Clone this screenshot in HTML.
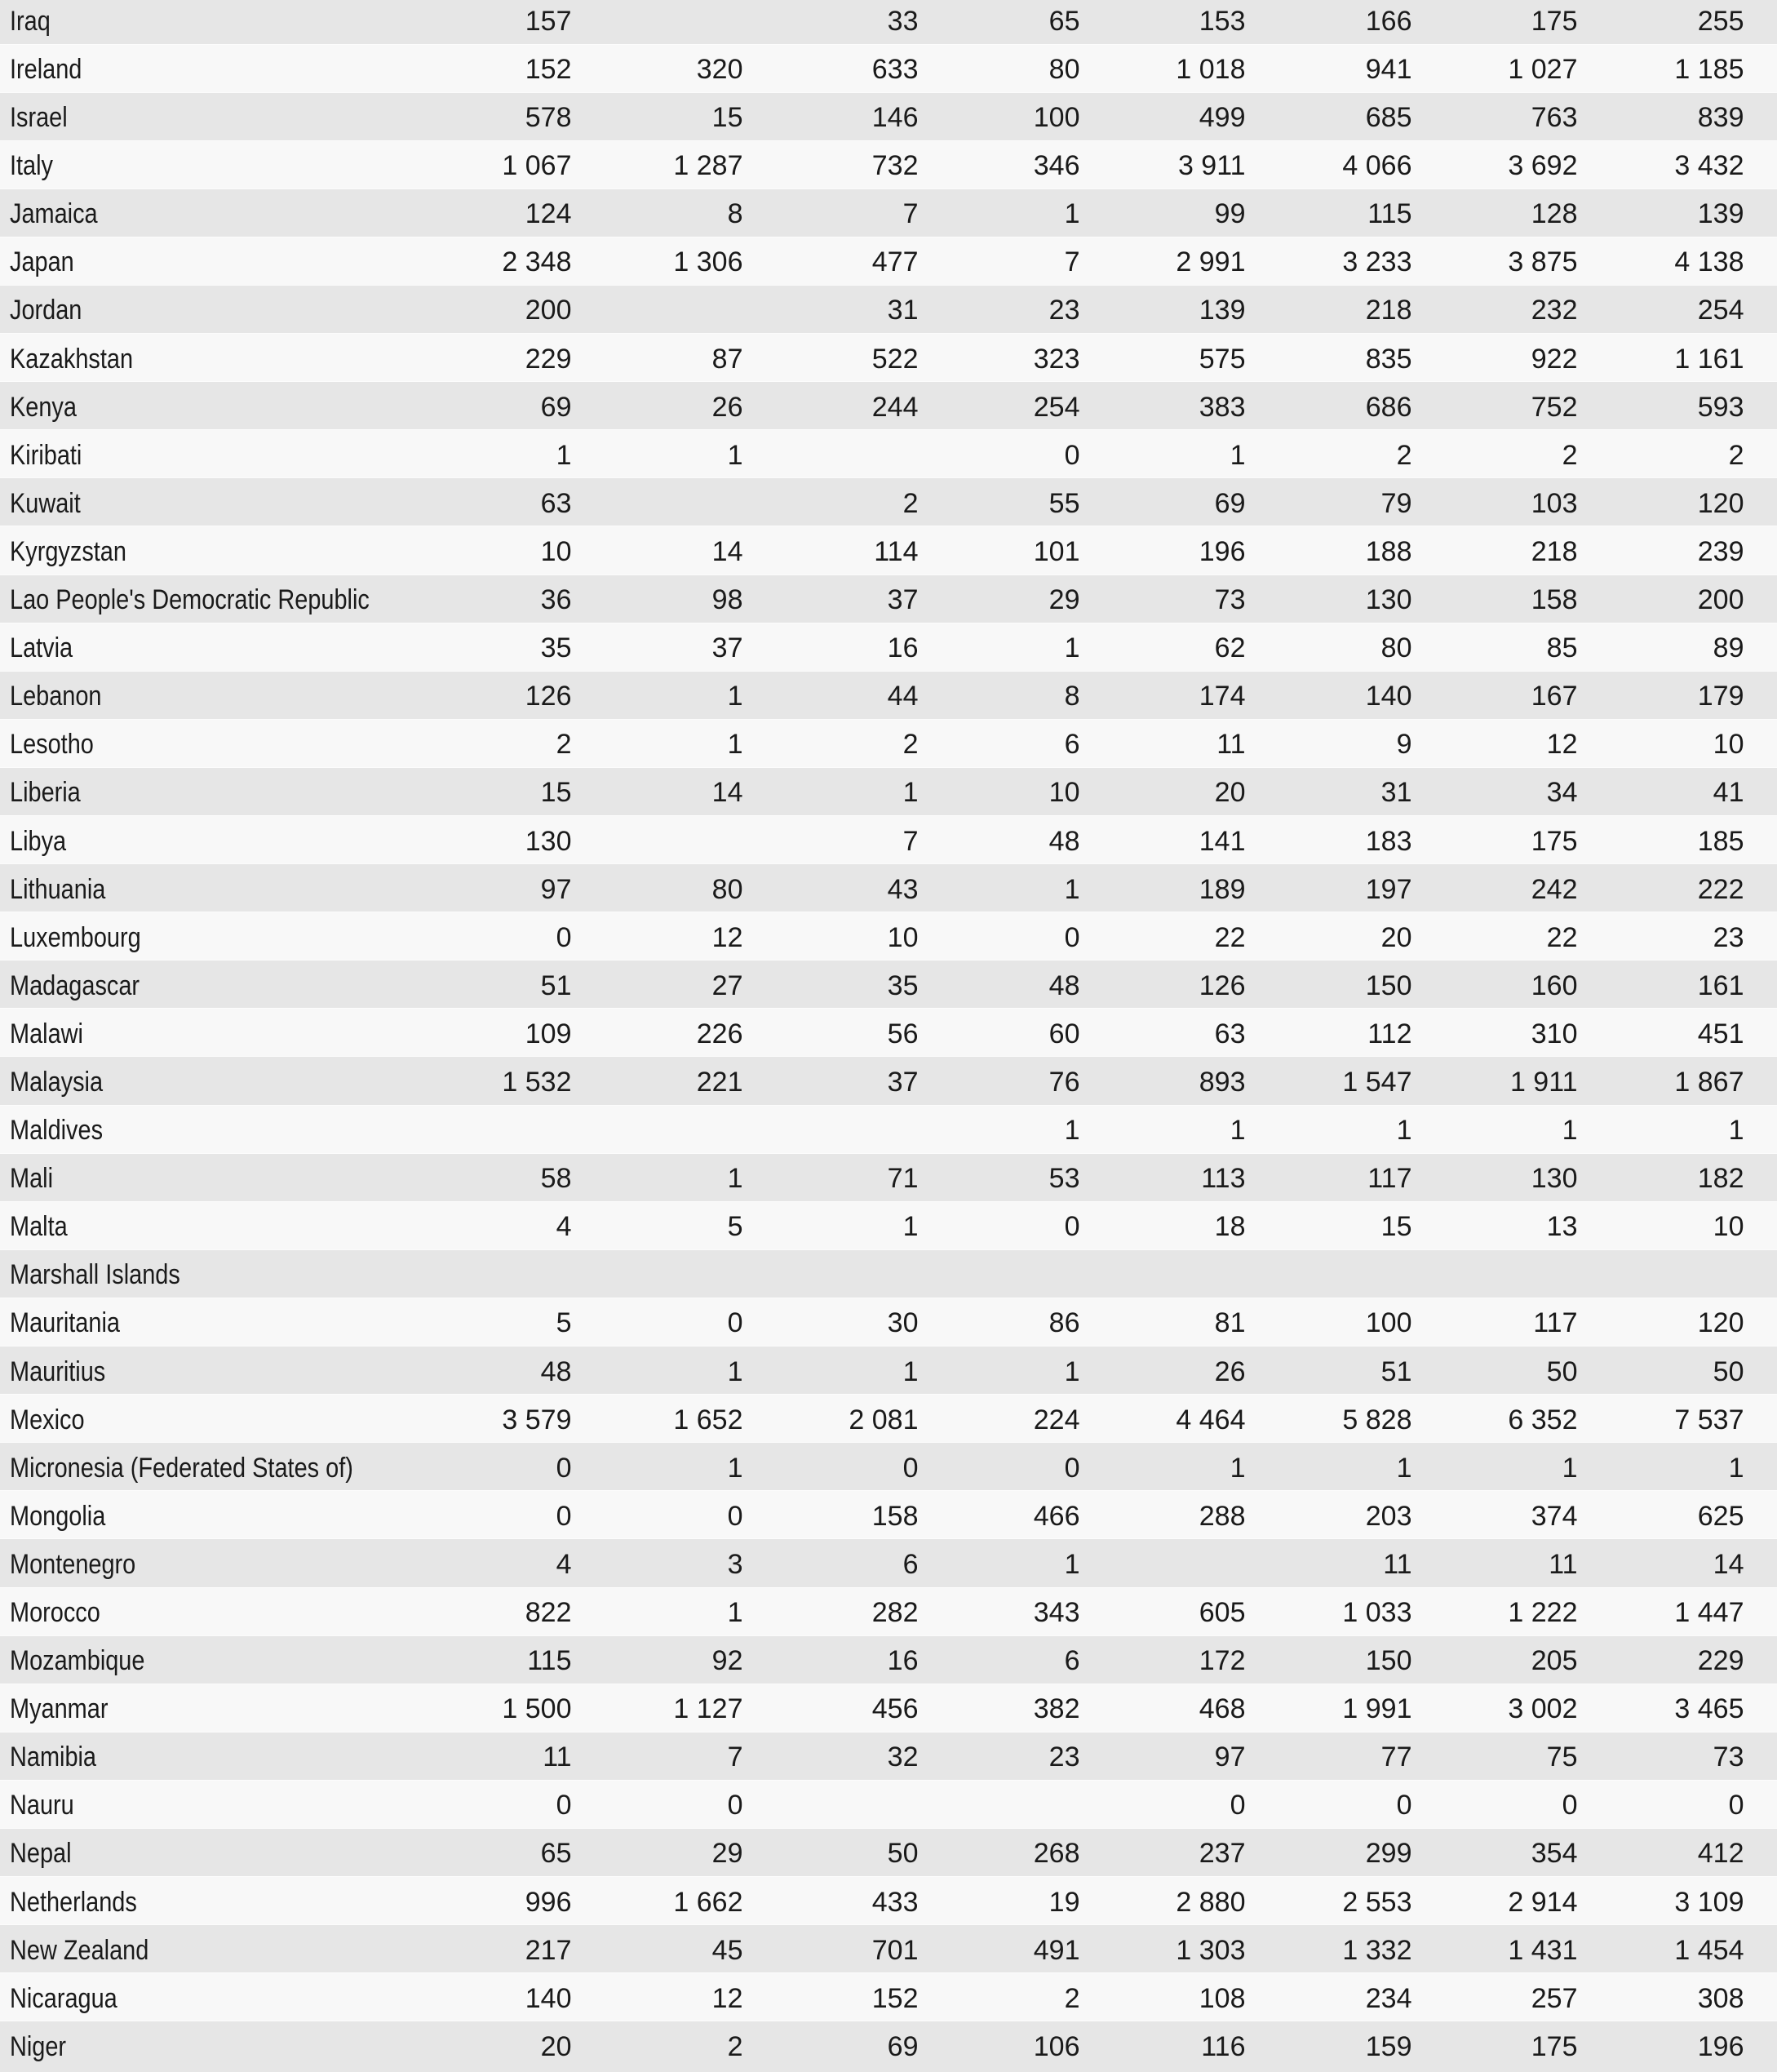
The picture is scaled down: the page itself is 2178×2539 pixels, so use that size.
<!DOCTYPE html>
<html>
<head>
<meta charset="utf-8">
<style>
html,body{margin:0;padding:0;}
body{width:2178px;height:2539px;overflow:hidden;background:#e6e6e6;position:relative;font-family:"Liberation Sans",sans-serif;}
#t{position:absolute;left:0;top:-5.6px;width:2178px;}
.r{position:relative;height:59.1px;background:#e6e6e6;color:#1a1a1a;font-size:34px;line-height:59px;}
.r:nth-child(even){background:#f8f8f8;}
.r::before{content:"";position:absolute;left:0;right:0;top:0;height:1px;background:#fcfcfc;}
.r span{position:absolute;top:2.5px;white-space:nowrap;}
.r .n{left:12px;transform:scaleX(0.85);transform-origin:0 50%;}
.c1{right:1477.5px}.c2{right:1267.5px}.c3{right:1052.5px}.c4{right:854.5px}
.c5{right:651.5px}.c6{right:447.5px}.c7{right:244.5px}.c8{right:40.5px}
</style>
</head>
<body>
<div id="t">
<div class="r"><span class="n">Iraq</span><span class="c1">157</span><span class="c3">33</span><span class="c4">65</span><span class="c5">153</span><span class="c6">166</span><span class="c7">175</span><span class="c8">255</span></div>
<div class="r"><span class="n">Ireland</span><span class="c1">152</span><span class="c2">320</span><span class="c3">633</span><span class="c4">80</span><span class="c5">1 018</span><span class="c6">941</span><span class="c7">1 027</span><span class="c8">1 185</span></div>
<div class="r"><span class="n">Israel</span><span class="c1">578</span><span class="c2">15</span><span class="c3">146</span><span class="c4">100</span><span class="c5">499</span><span class="c6">685</span><span class="c7">763</span><span class="c8">839</span></div>
<div class="r"><span class="n">Italy</span><span class="c1">1 067</span><span class="c2">1 287</span><span class="c3">732</span><span class="c4">346</span><span class="c5">3 911</span><span class="c6">4 066</span><span class="c7">3 692</span><span class="c8">3 432</span></div>
<div class="r"><span class="n">Jamaica</span><span class="c1">124</span><span class="c2">8</span><span class="c3">7</span><span class="c4">1</span><span class="c5">99</span><span class="c6">115</span><span class="c7">128</span><span class="c8">139</span></div>
<div class="r"><span class="n">Japan</span><span class="c1">2 348</span><span class="c2">1 306</span><span class="c3">477</span><span class="c4">7</span><span class="c5">2 991</span><span class="c6">3 233</span><span class="c7">3 875</span><span class="c8">4 138</span></div>
<div class="r"><span class="n">Jordan</span><span class="c1">200</span><span class="c3">31</span><span class="c4">23</span><span class="c5">139</span><span class="c6">218</span><span class="c7">232</span><span class="c8">254</span></div>
<div class="r"><span class="n">Kazakhstan</span><span class="c1">229</span><span class="c2">87</span><span class="c3">522</span><span class="c4">323</span><span class="c5">575</span><span class="c6">835</span><span class="c7">922</span><span class="c8">1 161</span></div>
<div class="r"><span class="n">Kenya</span><span class="c1">69</span><span class="c2">26</span><span class="c3">244</span><span class="c4">254</span><span class="c5">383</span><span class="c6">686</span><span class="c7">752</span><span class="c8">593</span></div>
<div class="r"><span class="n">Kiribati</span><span class="c1">1</span><span class="c2">1</span><span class="c4">0</span><span class="c5">1</span><span class="c6">2</span><span class="c7">2</span><span class="c8">2</span></div>
<div class="r"><span class="n">Kuwait</span><span class="c1">63</span><span class="c3">2</span><span class="c4">55</span><span class="c5">69</span><span class="c6">79</span><span class="c7">103</span><span class="c8">120</span></div>
<div class="r"><span class="n">Kyrgyzstan</span><span class="c1">10</span><span class="c2">14</span><span class="c3">114</span><span class="c4">101</span><span class="c5">196</span><span class="c6">188</span><span class="c7">218</span><span class="c8">239</span></div>
<div class="r"><span class="n">Lao People's Democratic Republic</span><span class="c1">36</span><span class="c2">98</span><span class="c3">37</span><span class="c4">29</span><span class="c5">73</span><span class="c6">130</span><span class="c7">158</span><span class="c8">200</span></div>
<div class="r"><span class="n">Latvia</span><span class="c1">35</span><span class="c2">37</span><span class="c3">16</span><span class="c4">1</span><span class="c5">62</span><span class="c6">80</span><span class="c7">85</span><span class="c8">89</span></div>
<div class="r"><span class="n">Lebanon</span><span class="c1">126</span><span class="c2">1</span><span class="c3">44</span><span class="c4">8</span><span class="c5">174</span><span class="c6">140</span><span class="c7">167</span><span class="c8">179</span></div>
<div class="r"><span class="n">Lesotho</span><span class="c1">2</span><span class="c2">1</span><span class="c3">2</span><span class="c4">6</span><span class="c5">11</span><span class="c6">9</span><span class="c7">12</span><span class="c8">10</span></div>
<div class="r"><span class="n">Liberia</span><span class="c1">15</span><span class="c2">14</span><span class="c3">1</span><span class="c4">10</span><span class="c5">20</span><span class="c6">31</span><span class="c7">34</span><span class="c8">41</span></div>
<div class="r"><span class="n">Libya</span><span class="c1">130</span><span class="c3">7</span><span class="c4">48</span><span class="c5">141</span><span class="c6">183</span><span class="c7">175</span><span class="c8">185</span></div>
<div class="r"><span class="n">Lithuania</span><span class="c1">97</span><span class="c2">80</span><span class="c3">43</span><span class="c4">1</span><span class="c5">189</span><span class="c6">197</span><span class="c7">242</span><span class="c8">222</span></div>
<div class="r"><span class="n">Luxembourg</span><span class="c1">0</span><span class="c2">12</span><span class="c3">10</span><span class="c4">0</span><span class="c5">22</span><span class="c6">20</span><span class="c7">22</span><span class="c8">23</span></div>
<div class="r"><span class="n">Madagascar</span><span class="c1">51</span><span class="c2">27</span><span class="c3">35</span><span class="c4">48</span><span class="c5">126</span><span class="c6">150</span><span class="c7">160</span><span class="c8">161</span></div>
<div class="r"><span class="n">Malawi</span><span class="c1">109</span><span class="c2">226</span><span class="c3">56</span><span class="c4">60</span><span class="c5">63</span><span class="c6">112</span><span class="c7">310</span><span class="c8">451</span></div>
<div class="r"><span class="n">Malaysia</span><span class="c1">1 532</span><span class="c2">221</span><span class="c3">37</span><span class="c4">76</span><span class="c5">893</span><span class="c6">1 547</span><span class="c7">1 911</span><span class="c8">1 867</span></div>
<div class="r"><span class="n">Maldives</span><span class="c4">1</span><span class="c5">1</span><span class="c6">1</span><span class="c7">1</span><span class="c8">1</span></div>
<div class="r"><span class="n">Mali</span><span class="c1">58</span><span class="c2">1</span><span class="c3">71</span><span class="c4">53</span><span class="c5">113</span><span class="c6">117</span><span class="c7">130</span><span class="c8">182</span></div>
<div class="r"><span class="n">Malta</span><span class="c1">4</span><span class="c2">5</span><span class="c3">1</span><span class="c4">0</span><span class="c5">18</span><span class="c6">15</span><span class="c7">13</span><span class="c8">10</span></div>
<div class="r"><span class="n">Marshall Islands</span></div>
<div class="r"><span class="n">Mauritania</span><span class="c1">5</span><span class="c2">0</span><span class="c3">30</span><span class="c4">86</span><span class="c5">81</span><span class="c6">100</span><span class="c7">117</span><span class="c8">120</span></div>
<div class="r"><span class="n">Mauritius</span><span class="c1">48</span><span class="c2">1</span><span class="c3">1</span><span class="c4">1</span><span class="c5">26</span><span class="c6">51</span><span class="c7">50</span><span class="c8">50</span></div>
<div class="r"><span class="n">Mexico</span><span class="c1">3 579</span><span class="c2">1 652</span><span class="c3">2 081</span><span class="c4">224</span><span class="c5">4 464</span><span class="c6">5 828</span><span class="c7">6 352</span><span class="c8">7 537</span></div>
<div class="r"><span class="n">Micronesia (Federated States of)</span><span class="c1">0</span><span class="c2">1</span><span class="c3">0</span><span class="c4">0</span><span class="c5">1</span><span class="c6">1</span><span class="c7">1</span><span class="c8">1</span></div>
<div class="r"><span class="n">Mongolia</span><span class="c1">0</span><span class="c2">0</span><span class="c3">158</span><span class="c4">466</span><span class="c5">288</span><span class="c6">203</span><span class="c7">374</span><span class="c8">625</span></div>
<div class="r"><span class="n">Montenegro</span><span class="c1">4</span><span class="c2">3</span><span class="c3">6</span><span class="c4">1</span><span class="c6">11</span><span class="c7">11</span><span class="c8">14</span></div>
<div class="r"><span class="n">Morocco</span><span class="c1">822</span><span class="c2">1</span><span class="c3">282</span><span class="c4">343</span><span class="c5">605</span><span class="c6">1 033</span><span class="c7">1 222</span><span class="c8">1 447</span></div>
<div class="r"><span class="n">Mozambique</span><span class="c1">115</span><span class="c2">92</span><span class="c3">16</span><span class="c4">6</span><span class="c5">172</span><span class="c6">150</span><span class="c7">205</span><span class="c8">229</span></div>
<div class="r"><span class="n">Myanmar</span><span class="c1">1 500</span><span class="c2">1 127</span><span class="c3">456</span><span class="c4">382</span><span class="c5">468</span><span class="c6">1 991</span><span class="c7">3 002</span><span class="c8">3 465</span></div>
<div class="r"><span class="n">Namibia</span><span class="c1">11</span><span class="c2">7</span><span class="c3">32</span><span class="c4">23</span><span class="c5">97</span><span class="c6">77</span><span class="c7">75</span><span class="c8">73</span></div>
<div class="r"><span class="n">Nauru</span><span class="c1">0</span><span class="c2">0</span><span class="c5">0</span><span class="c6">0</span><span class="c7">0</span><span class="c8">0</span></div>
<div class="r"><span class="n">Nepal</span><span class="c1">65</span><span class="c2">29</span><span class="c3">50</span><span class="c4">268</span><span class="c5">237</span><span class="c6">299</span><span class="c7">354</span><span class="c8">412</span></div>
<div class="r"><span class="n">Netherlands</span><span class="c1">996</span><span class="c2">1 662</span><span class="c3">433</span><span class="c4">19</span><span class="c5">2 880</span><span class="c6">2 553</span><span class="c7">2 914</span><span class="c8">3 109</span></div>
<div class="r"><span class="n">New Zealand</span><span class="c1">217</span><span class="c2">45</span><span class="c3">701</span><span class="c4">491</span><span class="c5">1 303</span><span class="c6">1 332</span><span class="c7">1 431</span><span class="c8">1 454</span></div>
<div class="r"><span class="n">Nicaragua</span><span class="c1">140</span><span class="c2">12</span><span class="c3">152</span><span class="c4">2</span><span class="c5">108</span><span class="c6">234</span><span class="c7">257</span><span class="c8">308</span></div>
<div class="r"><span class="n">Niger</span><span class="c1">20</span><span class="c2">2</span><span class="c3">69</span><span class="c4">106</span><span class="c5">116</span><span class="c6">159</span><span class="c7">175</span><span class="c8">196</span></div>
</div>
</body>
</html>
